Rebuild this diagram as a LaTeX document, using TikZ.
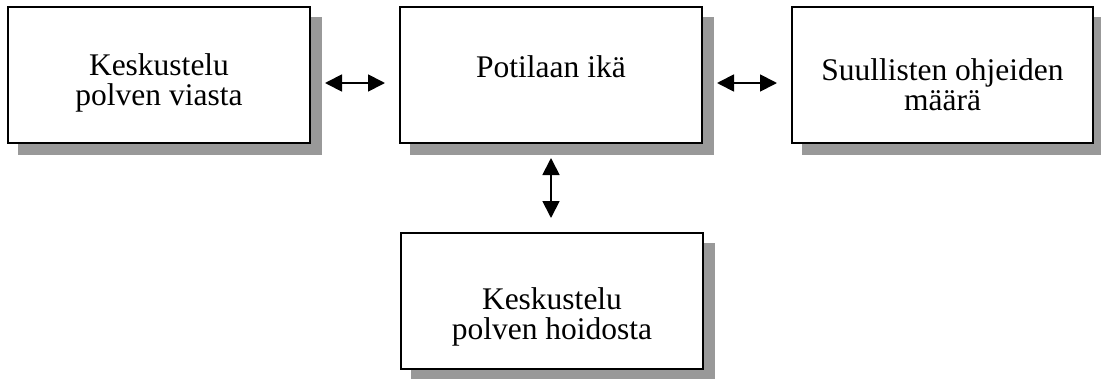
\documentclass[tikz,border=0pt]{standalone}
\usepackage{fontspec}
\setmainfont{Liberation Serif}
\usetikzlibrary{arrows.meta,calc}
\definecolor{shadowgray}{RGB}{153,153,153}
\tikzset{
  box/.style={draw=black, fill=white, line width=2pt, inner sep=0pt, outer sep=0pt,
    minimum width=302pt, minimum height=136pt},
  shadowbox/.style={fill=shadowgray, draw=none, inner sep=0pt, outer sep=0pt,
    minimum width=304pt, minimum height=138pt},
  txt/.style={align=center, inner sep=0pt, font=\fontsize{31.5}{30}\selectfont},
  conn/.style={{Triangle[length=17pt,width=17pt]}-{Triangle[length=17pt,width=17pt]},
    line width=1.8pt, shorten <=15pt, shorten >=15pt}
}
\begin{document}
\begin{tikzpicture}[x=1pt,y=-1pt]
\useasboundingbox (0,0) rectangle (1101,378);
% shadows
\node[shadowbox] (s1) at (170,86) {};
\node[shadowbox] (s2) at (562,86) {};
\node[shadowbox] (s3) at (953.5,86) {};
\node[shadowbox] (s4) at (563,312) {};
% boxes
\node[box] (b1) at (159,75) {};
\node[box] (b2) at (551,75) {};
\node[box, minimum width=301pt] (b3) at (942.5,75) {};
\node[box] (b4) at (552,301) {};
% texts
\node[txt, anchor=base] (t1) at (159,105) {Keskustelu\\polven viasta};
\node[txt, anchor=base] (t2) at (551,77) {Potilaan ikä};
\node[txt, anchor=base] (t3) at (942.5,110) {Suullisten ohjeiden\\määrä};
\node[txt, anchor=base] (t4) at (552,339) {Keskustelu\\polven hoidosta};
% connectors
\draw[conn] ([yshift=-8pt]b1.east) -- ([yshift=-8pt]b2.west);
\draw[conn] ([yshift=-8pt]b2.east) -- ([yshift=-8pt]b3.west);
\draw[conn] (b2.south) -- (b2.south |- b4.north);
\end{tikzpicture}
\end{document}
